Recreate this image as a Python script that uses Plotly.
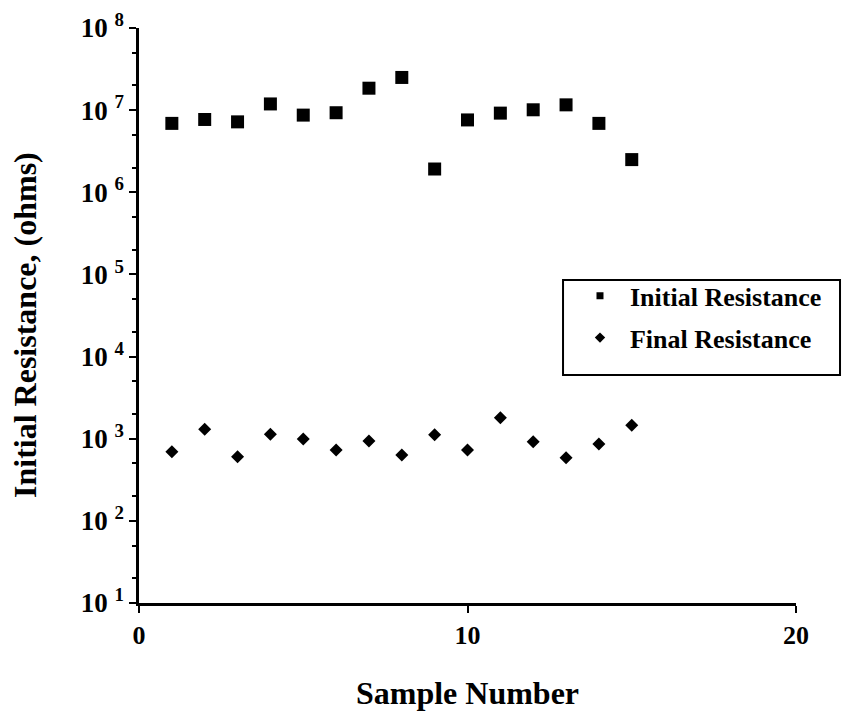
import plotly.graph_objects as go

sample = list(range(1, 16))
initial_resistance = [6.9e6, 7.7e6, 7.2e6, 1.19e7, 8.7e6, 9.3e6, 1.85e7, 2.5e7,
                      1.92e6, 7.6e6, 9.2e6, 1.01e7, 1.16e7, 6.9e6, 2.5e6]
final_resistance = [695, 1300, 604, 1130, 990, 728, 938, 634,
                    1120, 728, 1800, 921, 588, 861, 1455]
ytick_vals = [1e1, 1e2, 1e3, 1e4, 1e5, 1e6, 1e7, 1e8]
ytick_text = ["<b>10 <sup>%d</sup></b>" % k for k in range(1, 9)]
xtick_vals = [0, 10, 20]

FONT = "Liberation Serif"

fig = go.Figure()
fig.add_trace(go.Scatter(x=sample, y=initial_resistance, mode="markers",
                         marker=dict(symbol="square", size=13, color="black"),
                         showlegend=False))
fig.add_trace(go.Scatter(x=sample, y=final_resistance, mode="markers",
                         marker=dict(symbol="diamond", size=10, color="black"),
                         showlegend=False))
# legend entries
fig.add_trace(go.Scatter(x=[None], y=[None], mode="markers", name="<b>Initial Resistance</b>",
                         legendgroup="a",
                         marker=dict(symbol="square", size=7, color="black")))
fig.add_trace(go.Scatter(x=[None], y=[None], mode="markers", name="<b>Final Resistance</b>",
                         legendgroup="b",
                         marker=dict(symbol="diamond", size=8, color="black")))

# legend frame
fig.add_shape(type="rect", xref="paper", yref="paper",
              x0=0.6454, x1=1.067, y0=0.3965, y1=0.5617,
              line=dict(color="black", width=2), fillcolor="white", layer="below")

# y-axis title
fig.add_annotation(text="<b>Initial Resistance, (ohms)</b>", xref="paper", yref="paper",
                   x=-0.1735, y=0.4835, xanchor="center", yanchor="middle",
                   textangle=-90, showarrow=False,
                   font=dict(family=FONT, size=32, color="black"))

fig.update_layout(
    width=864, height=712,
    margin=dict(l=131, r=76, t=20, b=117),
    paper_bgcolor="white", plot_bgcolor="rgba(0,0,0,0)",
    font=dict(family=FONT, color="black", size=24),
    legend=dict(x=0.656, y=0.575, xanchor="left", yanchor="top",
                borderwidth=0, bgcolor="rgba(0,0,0,0)",
                font=dict(family=FONT, size=26, color="black"),
                itemwidth=50, tracegroupgap=5, traceorder="grouped"),
    xaxis=dict(range=[0, 20], tickvals=xtick_vals,
               ticktext=["<b>%d</b>" % v for v in xtick_vals],
               showline=True, linecolor="black", linewidth=2.5,
               ticks="outside", ticklen=7, tickwidth=2, tickcolor="black",
               showgrid=False, zeroline=False, automargin=False,
               tickfont=dict(family=FONT, size=26),
               title=dict(text="<b>Sample Number</b>", font=dict(family=FONT, size=32), standoff=33)),
    yaxis=dict(type="log", range=[1, 8], tickvals=ytick_vals, ticktext=ytick_text,
               showline=True, linecolor="black", linewidth=2.5,
               ticks="outside", ticklen=7, tickwidth=2, tickcolor="black",
               minor=dict(ticks="outside", ticklen=4, tickwidth=1.5, tickcolor="black", showgrid=False),
               showgrid=False, zeroline=False, automargin=False,
               tickfont=dict(family=FONT, size=27)),
)

fig.write_html("out.html")
